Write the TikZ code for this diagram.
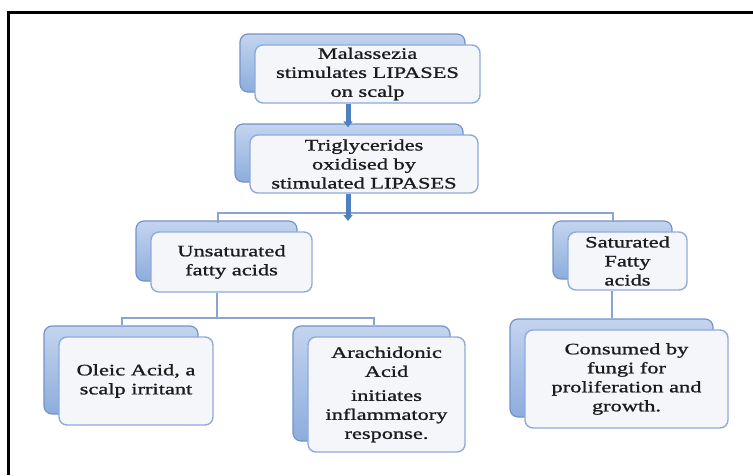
\documentclass[tikz,border=0pt]{standalone}
\usepackage{fontspec}
\setmainfont{Liberation Serif}[FakeStretch=1.4,FakeBold=1.2]
\usepackage{xcolor}
\usetikzlibrary{shadows,arrows.meta,positioning,calc}
\definecolor{boxline}{HTML}{8FAADC}
\definecolor{boxfill}{HTML}{F4F6FA}
\definecolor{backline}{HTML}{7393C9}
\definecolor{backtop}{HTML}{C3D4EE}
\definecolor{backbot}{HTML}{8DADDD}
\definecolor{treeline}{HTML}{8AA5D2}
\definecolor{flow}{HTML}{4F7FBF}
\definecolor{textdark}{HTML}{1C1C1C}

\tikzset{
  card/.style={draw=boxline, line width=1.4pt, fill=boxfill, rounded corners=8pt,
    align=center, inner sep=2pt, text=textdark, font=\fontsize{16}{19}\selectfont,
    copy shadow={shadow xshift=-15pt, shadow yshift=11pt, draw=backline,
      top color=backtop, bottom color=backbot, line width=1.2pt}},
  branch/.style={draw=treeline, line width=1.6pt},
  flowarrow/.style={draw=flow, line width=5pt, -{Triangle[width=9pt,length=6pt]}}
}

\begin{document}
\begin{tikzpicture}[x=1pt,y=-1pt]
\useasboundingbox (0,0) rectangle (753,475);
% frame
\draw[line width=3pt] (8,475) |- (753,12);
% boxes
\node[card, minimum width=225pt, minimum height=58pt] (mal) at (367.5,74)
  {Malassezia\\stimulates LIPASES\\on scalp};
\node[card, minimum width=228pt, minimum height=58pt] (tri) at (364,164)
  {Triglycerides\\oxidised by\\stimulated LIPASES};
\node[card, minimum width=161pt, minimum height=60pt] (unsat) at (231.5,262)
  {Unsaturated\\fatty acids};
\node[card, minimum width=119pt, minimum height=58pt] (sat) at (627.5,261)
  {Saturated\\Fatty\\acids};
\node[card, minimum width=154pt, minimum height=88pt] (oleic) at (136,381)
  {Oleic Acid, a\\scalp irritant};
\node[card, minimum width=157pt, minimum height=115pt] (arach) at (386.5,394.5)
  {Arachidonic\\Acid\\[5pt]initiates\\inflammatory\\response.};
\node[card, minimum width=203pt, minimum height=98pt] (cons) at (626.5,379)
  {Consumed by\\fungi for\\proliferation and\\growth.};
% connectors
\coordinate (split) at (348,213);
\coordinate (fork) at (217,318);
\coordinate (unsattop) at (218,223);
\coordinate (sattop) at (613,222);
\coordinate (oleictop) at (122,325);
\coordinate (arachtop) at (374,325);
\coordinate (constop) at (612,318);
\draw[branch] (unsattop) |- (split) -| (sattop);
\draw[flowarrow] (mal.south -| split) -- ([yshift=7pt]tri.north -| split);
\draw[flowarrow] (tri.south -| split) -- ([yshift=-8pt]split);
\draw[branch] (unsat.south -| fork) -- (fork);
\draw[branch] (oleictop) |- (fork) -| (arachtop);
\draw[branch] (sat.south -| constop) -- (constop);
\end{tikzpicture}
\end{document}
